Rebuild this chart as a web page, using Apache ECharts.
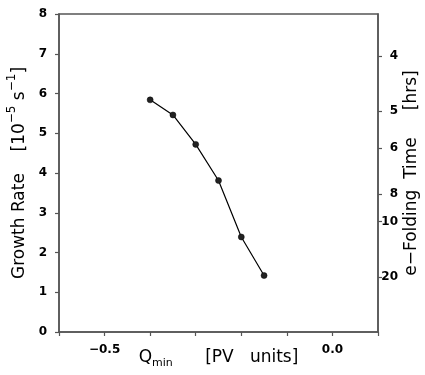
<!DOCTYPE html>
<html><head><meta charset="utf-8">
<script src="https://cdn.jsdelivr.net/npm/echarts@6/dist/echarts.min.js"></script>
<style>html,body{margin:0;padding:0;background:#fff}#c{width:425px;height:375px}</style>
</head><body><div id="c"></div>
<script>
const qmin = [-0.40, -0.35, -0.30, -0.25, -0.20, -0.15];
const growthRate = [5.84, 5.46, 4.72, 3.81, 2.39, 1.42];
const efoldHours = [4, 5, 6, 8, 10, 20];
const xLabelValues = [-0.5, 0.0];

const rateOfHours = h => 1e5 / (h * 3600);
const rightVals = efoldHours.map(rateOfHours);
const FONT = '"DejaVu Sans", "Liberation Sans", Arial, sans-serif';
const AX = '#555';
const tickLabel = {color: '#000', fontFamily: FONT, fontSize: 12, fontWeight: 'bold'};

const chart = echarts.init(document.getElementById('c'), null, {renderer: 'canvas'});
chart.setOption({
  animation: false,
  grid: {left: 59, right: 47, top: 14, bottom: 43, show: true, borderColor: AX, borderWidth: 1.5,
         containLabel: false, outerBoundsMode: 'none'},
  xAxis: {
    type: 'value', min: -0.6, max: 0.1, interval: 0.1,
    axisLine: {show: true, onZero: false, lineStyle: {color: AX, width: 1.5}},
    axisTick: {show: true, length: 4, inside: false, lineStyle: {color: AX, width: 1.2}},
    splitLine: {show: false},
    axisLabel: Object.assign({
      customValues: xLabelValues, margin: 12,
      formatter: v => v.toFixed(1).replace('-', '\u2212')
    }, tickLabel),
    name: '{t|Q}{s|min}{t|      [PV   units]}', nameLocation: 'middle', nameGap: 14, nameMoveOverlap: false,
    nameTextStyle: {
      rich: {
        t: {fontFamily: FONT, fontSize: 17, color: '#000', lineHeight: 20, verticalAlign: 'bottom'},
        s: {fontFamily: FONT, fontSize: 11, color: '#000', lineHeight: 12, verticalAlign: 'bottom', padding: [0,0,-3,0]}
      }
    }
  },
  yAxis: [{
    type: 'value', min: 0, max: 8, interval: 1, position: 'left',
    axisLine: {show: true, onZero: false, lineStyle: {color: AX, width: 1.5}},
    axisTick: {show: true, length: 4, lineStyle: {color: AX, width: 1.2}},
    splitLine: {show: false},
    axisLabel: Object.assign({margin: 12}, tickLabel),
    name: '{t|Growth Rate    [10}{s|\u22125}{t| s}{s|\u22121}{t|]}', nameLocation: 'middle', nameGap: 31, nameRotate: 90,
    nameMoveOverlap: false,
    nameTextStyle: {
      rich: {
        t: {fontFamily: FONT, fontSize: 17, color: '#000', lineHeight: 22, verticalAlign: 'bottom'},
        s: {fontFamily: FONT, fontSize: 12, color: '#000', lineHeight: 22, verticalAlign: 'top'}
      }
    }
  }, {
    type: 'value', min: 0, max: 8, position: 'right',
    axisLine: {show: true, onZero: false, lineStyle: {color: AX, width: 1.5}},
    axisTick: {show: true, length: 4, customValues: rightVals, lineStyle: {color: AX, width: 1.2}},
    splitLine: {show: false},
    axisLabel: Object.assign({
      customValues: rightVals, margin: 20, align: 'right',
      formatter: v => String(Math.round(1e5 / (v * 3600)))
    }, tickLabel),
    name: 'e\u2212Folding  Time     [hrs]', nameLocation: 'middle', nameGap: 25, nameRotate: 90,
    nameMoveOverlap: false,
    nameTextStyle: {fontFamily: FONT, fontSize: 17, color: '#000'}
  }],
  series: [{
    type: 'line', yAxisIndex: 0,
    data: qmin.map((q, i) => [q, growthRate[i]]),
    symbol: 'circle', symbolSize: 6,
    lineStyle: {color: '#000', width: 1.2},
    itemStyle: {color: '#222', borderColor: '#000', borderWidth: 0.5}
  }]
});
</script></body></html>
